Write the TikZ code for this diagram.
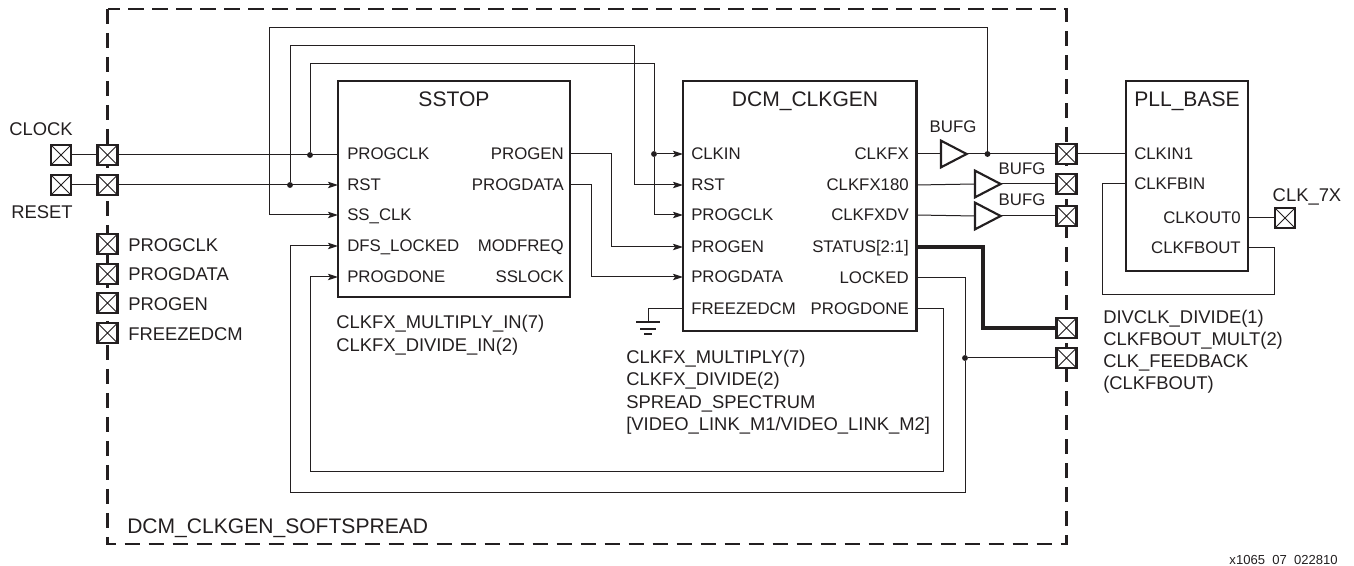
\documentclass[tikz,border=0pt]{standalone}
\usepackage{fontspec}
\setmainfont{Liberation Sans}
\usetikzlibrary{arrows.meta, positioning, shapes.geometric, calc}
\definecolor{InkDark}{RGB}{35, 31, 32}
\tikzset{
  blockbox/.style={rectangle, draw=InkDark, line width=1.9pt, fill=white, anchor=north west,
                   inner sep=0pt, outer sep=0pt},
  padbox/.style={rectangle, draw=InkDark, line width=1.9pt, fill=white, inner sep=0pt, outer sep=0pt,
                 minimum width=15pt, minimum height=15pt,
                 path picture={\draw[line width=0.6pt, InkDark]
                   (path picture bounding box.north west) -- (path picture bounding box.south east)
                   (path picture bounding box.north east) -- (path picture bounding box.south west);}},
  bufbox/.style={isosceles triangle, isosceles triangle apex angle=55, draw=InkDark, line width=1.6pt,
                 fill=white, inner sep=0pt, outer sep=0pt, minimum height=19pt, minimum width=20pt},
  dotnode/.style={circle, fill=InkDark, inner sep=0pt, minimum size=4.4pt},
  txt/.style={inner sep=0pt, text=InkDark, text depth=0pt},
  ptlbl/.style={txt, font=\fontsize{12.6}{15}\selectfont, text height=9pt, anchor=#1},
  outlbl/.style={txt, font=\fontsize{13.8}{16}\selectfont, text height=9.9pt, anchor=#1},
  ttl/.style={txt, font=\fontsize{15.8}{18}\selectfont, text height=11.3pt, anchor=center},
  wire/.style={line width=0.75pt, draw=InkDark},
  arr/.style={wire, -{Stealth[length=7.5pt, width=4.8pt, inset=1.5pt]}},
  softline/.style={draw=InkDark, line width=1.9pt, dash pattern=on 11.3pt off 6.7pt},
}
\begin{document}
\begin{tikzpicture}[x=0.75pt, y=-0.75pt]
  \useasboundingbox (0,0) rectangle (1354,566);

  % outer block
  \coordinate (softnw) at (107.5,9);
  \coordinate (softse) at (1066.5,544);
  \draw[softline] (softnw) rectangle (softse);
  \node[ttl, anchor=west] (softname) at (127,526) {DCM\_CLKGEN\_SOFTSPREAD};

  % blocks
  \node[blockbox, minimum width=174pt, minimum height=162pt] (sstop) at (338,81) {};
  \node[blockbox, minimum width=175pt, minimum height=187.5pt] (dcm) at (683,81) {};
  \node[blockbox, minimum width=91.5pt, minimum height=142.5pt] (pll) at (1126,81) {};
  \node[ttl] (sstitle) at (454,99) {SSTOP};
  \node[ttl] (dcmtitle) at (805,99) {DCM\_CLKGEN};
  \node[ttl] (plltitle) at (1187,99) {PLL\_BASE};

  % SSTOP ports
  \node[ptlbl=west] (ssprogclk) at (347,154) {PROGCLK};
  \node[ptlbl=west] (ssrst) at (347,185) {RST};
  \node[ptlbl=west] (ssclk) at (347,215) {SS\_CLK};
  \node[ptlbl=west] (ssdfs) at (347,246) {DFS\_LOCKED};
  \node[ptlbl=west] (ssdone) at (347,277) {PROGDONE};
  \node[ptlbl=east] (ssprogen) at (564,154) {PROGEN};
  \node[ptlbl=east] (ssdata) at (564,185) {PROGDATA};
  \node[ptlbl=east] (ssmod) at (564,246) {MODFREQ};
  \node[ptlbl=east] (sslock) at (564,277) {SSLOCK};

  % DCM_CLKGEN ports
  \node[ptlbl=west] (dcclkin) at (691,154) {CLKIN};
  \node[ptlbl=west] (dcrst) at (691,185) {RST};
  \node[ptlbl=west] (dcprog) at (691,215) {PROGCLK};
  \node[ptlbl=west] (dcprogen) at (691,247) {PROGEN};
  \node[ptlbl=west] (dcdata) at (691,277) {PROGDATA};
  \node[ptlbl=west] (dcfreeze) at (691,309) {FREEZEDCM};
  \node[ptlbl=east] (dcfx) at (909,154) {CLKFX};
  \node[ptlbl=east] (dcfxb) at (909,185) {CLKFX180};
  \node[ptlbl=east] (dcfxdv) at (909,215) {CLKFXDV};
  \node[ptlbl=east] (dcstat) at (909,247) {STATUS[2:1]};
  \node[ptlbl=east] (dclock) at (909,278) {LOCKED};
  \node[ptlbl=east] (dcdone) at (909,309) {PROGDONE};

  % PLL_BASE ports
  \node[ptlbl=west] (plin) at (1134,154) {CLKIN1};
  \node[ptlbl=west] (plfbin) at (1134,184) {CLKFBIN};
  \node[ptlbl=east] (plout) at (1241,218) {CLKOUT0};
  \node[ptlbl=east] (plfbout) at (1241,248) {CLKFBOUT};

  % pads
  \node[padbox] (clockext) at (61,155) {};
  \node[padbox] (resetext) at (61,185) {};
  \node[padbox] (clockpad) at (107.5,155) {};
  \node[padbox] (resetpad) at (107.5,185) {};
  \node[padbox] (progclkpad) at (107.5,244) {};
  \node[padbox] (progdatapad) at (107.5,274) {};
  \node[padbox] (progenpad) at (107.5,303) {};
  \node[padbox] (freezepad) at (107.5,333) {};
  \node[padbox] (fxpad) at (1066.5,154) {};
  \node[padbox] (fxbpad) at (1066.5,184) {};
  \node[padbox] (fxdvpad) at (1066.5,216) {};
  \node[padbox] (statpad) at (1066.5,328) {};
  \node[padbox] (lockpad) at (1066.5,358) {};
  \node[padbox] (clk7pad) at (1285,218) {};

  % pad labels
  \node[outlbl=east] (clocklbl) at (73,129) {CLOCK};
  \node[outlbl=east] (resetlbl) at (73,212) {RESET};
  \node[outlbl=west] (progclklbl) at (128,245) {PROGCLK};
  \node[outlbl=west] (progdatalbl) at (128,274) {PROGDATA};
  \node[outlbl=west] (progenlbl) at (128,304) {PROGEN};
  \node[outlbl=west] (freezelbl) at (128,334) {FREEZEDCM};
  \node[outlbl=center] (clk7lbl) at (1307,195) {CLK\_7X};

  % buffers
  \node[bufbox, anchor=lower side] (bufa) at (941,154) {};
  \node[bufbox, anchor=lower side] (bufb) at (975,184) {};
  \node[bufbox, anchor=lower side] (bufc) at (975,216) {};
  \node[ptlbl=center] (bufalbl) at (953,127) {BUFG};
  \node[ptlbl=center] (bufblbl) at (1022,169) {BUFG};
  \node[ptlbl=center] (bufclbl) at (1022,200) {BUFG};

  % attribute text
  \node[outlbl=west] (ssmul) at (336,322) {CLKFX\_MULTIPLY\_IN(7)};
  \node[outlbl=west] (ssdiv) at (336,345) {CLKFX\_DIVIDE\_IN(2)};
  \node[outlbl=west] (dcmul) at (626,357) {CLKFX\_MULTIPLY(7)};
  \node[outlbl=west] (dcdiv) at (626,379) {CLKFX\_DIVIDE(2)};
  \node[outlbl=west] (dcspread) at (626,402) {SPREAD\_SPECTRUM};
  \node[outlbl=west] (dcvideo) at (626,424) {[VIDEO\_LINK\_M1/VIDEO\_LINK\_M2]};
  \node[outlbl=west] (pldiv) at (1103,317) {DIVCLK\_DIVIDE(1)};
  \node[outlbl=west] (plmul) at (1103,339) {CLKFBOUT\_MULT(2)};
  \node[outlbl=west] (plfb) at (1103,361) {CLK\_FEEDBACK};
  \node[outlbl=west] (plfbb) at (1103,383) {(CLKFBOUT)};
  \node[txt, anchor=east, font=\fontsize{9.8}{11}\selectfont] (figid) at (1338,560) {x1065\ \ 07\ \ 022810};

  % junctions and bends
  \node[dotnode] (jclk) at (310,155) {};
  \node[dotnode] (jrst) at (290,185) {};
  \node[dotnode] (jclkin) at (654,154) {};
  \node[dotnode] (jfx) at (987.5,154) {};
  \node[dotnode] (jlock) at (965,358) {};
  \coordinate (topa) at (269,28);
  \coordinate (topb) at (634,46);
  \coordinate (topc) at (654,64);
  \coordinate (donea) at (943,472);
  \coordinate (doneb) at (965,493);
  \coordinate (fba) at (1274,295);
  \coordinate (fbb) at (1102,295);
  \coordinate (gnda) at (648,322);
  \coordinate (statb) at (983,328);

  % input side
  \draw[wire] (clockext) -- (clockpad);
  \draw[wire] (resetext) -- (resetpad);
  \draw[wire] (clockpad) -- (sstop.west |- clockpad);
  \draw[arr]  (resetpad) -- (sstop.west |- ssrst);
  \draw[arr]  (jfx) |- (topa) |- (sstop.west |- ssclk);
  \draw[arr]  (jrst) |- (topb) |- (dcm.west |- dcrst);
  \draw[wire] (jclk) |- (topc) -- (jclkin);
  \draw[arr]  (jclkin) -- (dcm.west |- dcclkin);
  \draw[arr]  (jclkin) |- (dcm.west |- dcprog);

  % SSTOP to DCM_CLKGEN
  \draw[arr] (sstop.east |- ssprogen) -- ++(41,0) |- (dcm.west |- dcprogen);
  \draw[arr] (sstop.east |- ssdata) -- ++(21,0) |- (dcm.west |- dcdata);

  % back to SSTOP
  \draw[wire] (dcm.east |- dcdone) -| (donea);
  \draw[arr]  (donea) -| (310,277) -- (sstop.west |- ssdone);
  \draw[wire] (dcm.east |- dclock) -| (jlock);
  \draw[wire] (jlock) -- (doneb);
  \draw[arr]  (doneb) -| (290,246) -- (sstop.west |- ssdfs);
  \draw[wire] (jlock) -- (lockpad);
  \draw[line width=2.9pt, draw=InkDark] (dcm.east |- dcstat) -| (statb) -- (statpad);

  % buffers to pads
  \draw[wire] (dcm.east |- dcfx) -- (bufa.lower side);
  \draw[wire] (dcm.east |- dcfxb) -- (bufb.lower side);
  \draw[wire] (dcm.east |- dcfxdv) -- (bufc.lower side);
  \draw[wire] (bufa.apex) -- (fxpad);
  \draw[wire] (bufb.apex) -- (fxbpad);
  \draw[wire] (bufc.apex) -- (fxdvpad);

  % PLL_BASE
  \draw[wire] (fxpad) -- (pll.west |- plin);
  \draw[wire] (pll.east |- plout) -- (clk7pad);
  \draw[wire] (pll.east |- plfbout) -| (fba) -- (fbb) |- (pll.west |- plfbin);

  % ground
  \draw[wire] (dcm.west |- dcfreeze) -| (gnda);
  \draw[wire, line width=1.6pt] ($(gnda)+(-12,0)$) -- ($(gnda)+(12,0)$);
  \draw[wire, line width=1.6pt] ($(gnda)+(-8,7)$) -- ($(gnda)+(8,7)$);
  \draw[wire, line width=1.6pt] ($(gnda)+(-4,12)$) -- ($(gnda)+(4,12)$);
\end{tikzpicture}
\end{document}
